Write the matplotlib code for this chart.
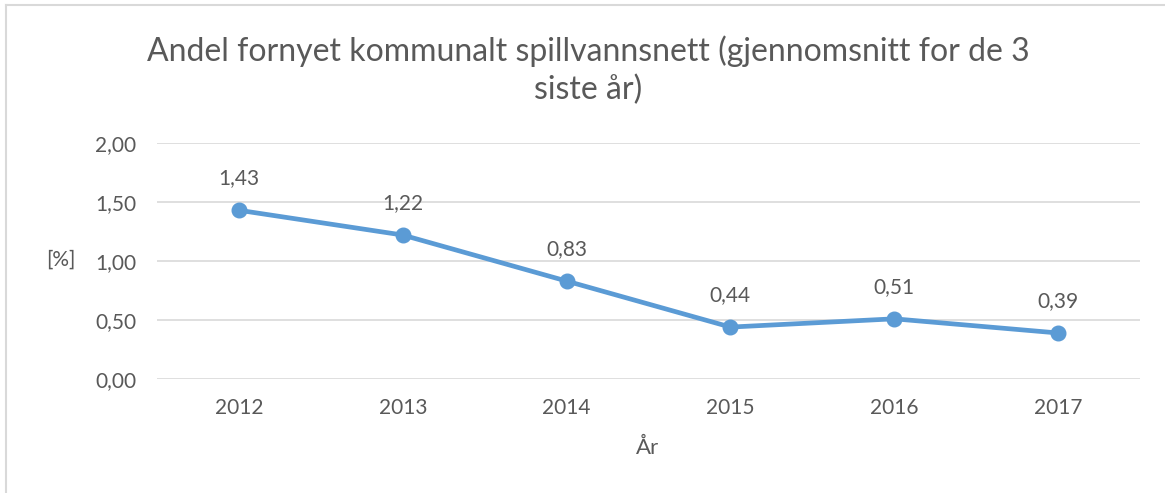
import matplotlib
matplotlib.use("Agg")
import matplotlib.pyplot as plt
from matplotlib.lines import Line2D

years = ["2012", "2013", "2014", "2015", "2016", "2017"]
values = [1.43, 1.22, 0.83, 0.44, 0.51, 0.39]
yticks = [0.0, 0.5, 1.0, 1.5, 2.0]

plt.rcParams['font.family'] = ['Lato', 'DejaVu Sans']
txt = '#595959'

fig = plt.figure(figsize=(11.65, 4.93), dpi=100)
ax = fig.add_axes([157/1165, 1-379/493, 983/1165, 236/493])

x = list(range(len(years)))
ax.plot(x, values, color='#5B9BD5', lw=3.4, marker='o', markersize=10.5, solid_capstyle='round', zorder=3)
for xi, v in zip(x, values):
    ax.annotate(f"{v:.2f}".replace('.', ','), (xi, v), xytext=(0, 23), textcoords='offset points',
                ha='center', va='center', fontsize=15, color=txt)

ax.set_xlim(-0.5, len(years) - 0.5)
ax.set_ylim(0, 2.0)
ax.set_yticks(yticks)
ax.set_yticklabels([f"{t:.2f}".replace('.', ',') for t in yticks])
ax.set_xticks(x)
ax.set_xticklabels(years)
ax.tick_params(axis='both', length=0, labelsize=15, colors=txt)
ax.tick_params(axis='y', pad=15)
ax.tick_params(axis='x', pad=14)
ax.grid(axis='y', color='#D9D9D9', lw=1.2)
ax.set_axisbelow(True)
for s in ax.spines.values():
    s.set_visible(False)

fig.text(61/1165, 1-260/493, "[%]", ha='center', va='center', fontsize=15, color=txt)
fig.text(648/1165, 1-448/493, "År", ha='center', va='center', fontsize=16, color=txt)
fig.text(588/1165, 1-70/493, "Andel fornyet kommunalt spillvannsnett (gjennomsnitt for de 3\nsiste år)",
         ha='center', va='center', fontsize=23, color=txt, linespacing=1.3)

# chart border (left and top visible)
fig.add_artist(Line2D([6/1165, 6/1165], [0, 1-5/493], transform=fig.transFigure, color='#D9D9D9', lw=1.5))
fig.add_artist(Line2D([6/1165, 1], [1-5/493, 1-5/493], transform=fig.transFigure, color='#D9D9D9', lw=1.5))

fig.savefig("out.png", dpi=100)
